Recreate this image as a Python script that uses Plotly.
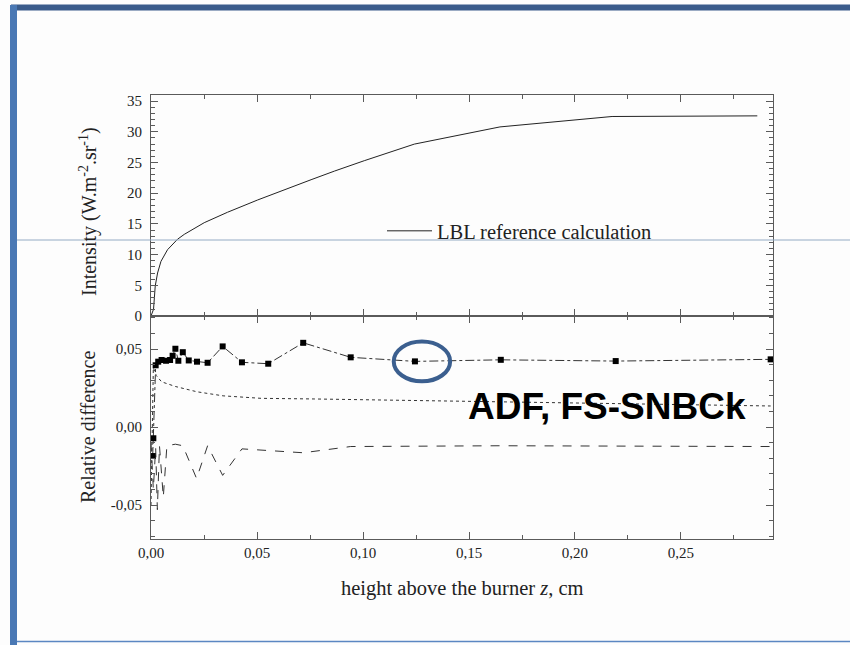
import plotly.graph_objects as go

# ---------------- data ----------------
lbl_z = [0.0, 0.0003, 0.0012, 0.0020, 0.0031, 0.0047, 0.0078, 0.0125, 0.0157,
         0.0251, 0.0361, 0.0503, 0.0629, 0.0755, 0.0865, 0.1006, 0.1242, 0.1384,
         0.1646, 0.2175, 0.2500, 0.2860]
lbl_I = [0.0, 0.3, 1.1, 4.9, 7.0, 8.9, 10.8, 12.5, 13.3,
         15.2, 16.9, 18.9, 20.6, 22.2, 23.6, 25.3, 28.0, 29.0,
         30.8, 32.5, 32.6, 32.6]

sq_z = [0.0008, 0.0011, 0.0022, 0.0034, 0.0050, 0.0071, 0.0090, 0.0102, 0.0115,
        0.0129, 0.0150, 0.0178, 0.0217, 0.0267, 0.0338, 0.0429, 0.0553, 0.0718,
        0.0942, 0.1245, 0.1650, 0.2192, 0.2923]
sq_v = [-0.0186, -0.0072, 0.0396, 0.0419, 0.0430, 0.0425, 0.0430, 0.0457, 0.0502,
        0.0425, 0.0480, 0.0427, 0.0419, 0.0412, 0.0517, 0.0415, 0.0406, 0.0540,
        0.0447, 0.0421, 0.0431, 0.0423, 0.0434]

dot_z = [0.0, 0.0011, 0.0025, 0.0050, 0.0115, 0.0217, 0.034, 0.052, 0.077,
         0.110, 0.150, 0.200, 0.2923]
dot_v = [-0.050, 0.038, 0.033, 0.029, 0.026, 0.0226, 0.020, 0.0184, 0.018,
         0.0173, 0.0165, 0.0158, 0.0135]

dash_z = [0.0, 0.0011, 0.0022, 0.0030, 0.0040, 0.0058, 0.0075, 0.0115, 0.0150,
          0.0215, 0.0267, 0.0338, 0.0429, 0.0718, 0.0942, 0.1650, 0.2923]
dash_v = [-0.010, -0.040, -0.013, -0.053, -0.012, -0.045, -0.012, -0.011, -0.012,
          -0.033, -0.012, -0.031, -0.014, -0.0165, -0.0125, -0.012, -0.0125]

x_ticks = [0.0, 0.05, 0.10, 0.15, 0.20, 0.25]
rel_tickvals = [-0.05, 0.0, 0.05]
rel_ticktext = ["-0,05", "0,00", "0,05"]

# ---------------- geometry helpers (pixel -> paper) ----------------
W, H = 850, 645
L, R, T, B = 151, 773, 95, 539
MID = 316


def X(px):
    return (px - L) / (R - L)


def Y(py):
    return (B - py) / (B - T)


split = Y(MID)
SERIF = "Liberation Serif"
AX = "#5a5a5a"
TXT = "#222222"

fig = go.Figure()

fig.add_trace(go.Scatter(
    x=lbl_z, y=lbl_I, mode="lines", name="LBL reference calculation",
    line=dict(color="#222222", width=1),
    xaxis="x", yaxis="y", showlegend=True))

fig.add_trace(go.Scatter(
    x=dot_z, y=dot_v, mode="lines", line=dict(color="#333333", width=1, dash="dot"),
    xaxis="x2", yaxis="y2", showlegend=False))
fig.add_trace(go.Scatter(
    x=dash_z, y=dash_v, mode="lines", line=dict(color="#333333", width=1, dash="dash"),
    xaxis="x2", yaxis="y2", showlegend=False))
fig.add_trace(go.Scatter(
    x=sq_z, y=sq_v, mode="lines+markers",
    line=dict(color="#333333", width=1, dash="dashdot"),
    marker=dict(symbol="square", size=6, color="#000000"),
    xaxis="x2", yaxis="y2", showlegend=False))

common_x = dict(range=[0, 0.2934], showline=True, linecolor=AX, linewidth=1,
                mirror="ticks", ticks="inside", ticklen=7, tickcolor=AX,
                dtick=0.05, tick0=0, showgrid=False, zeroline=False,
                minor=dict(dtick=0.025, tick0=0, ticks="inside", ticklen=4,
                           tickcolor=AX, showgrid=False))

fig.update_layout(
    width=W, height=H,
    margin=dict(l=L, r=W - R, t=T, b=H - B, pad=0),
    paper_bgcolor="#fdfdfd", plot_bgcolor="#fdfdfd",
    separators=",.",
    font=dict(family=SERIF, size=15, color=TXT),
    xaxis=dict(common_x, domain=[0, 1], anchor="y", showticklabels=False),
    yaxis=dict(domain=[split, 1], range=[0, 36], anchor="x", showline=True,
               linecolor=AX, mirror="ticks", ticks="inside", ticklen=7,
               tickcolor=AX, dtick=5, tick0=0, showgrid=False, zeroline=False,
               ticklabelstandoff=5,
               tickfont=dict(family=SERIF, size=15, color=TXT),
               minor=dict(dtick=1, tick0=0, ticks="inside", ticklen=4,
                          tickcolor=AX, showgrid=False)),
    xaxis2=dict(common_x, domain=[0, 1], anchor="y2", matches="x",
                showticklabels=True, tickvals=x_ticks, tickformat=".2f",
                tickfont=dict(family=SERIF, size=15, color=TXT)),
    yaxis2=dict(domain=[0, split], range=[-0.0718, 0.0712], anchor="x2",
                showline=True, linecolor=AX, mirror="ticks", ticks="inside",
                ticklen=7, tickcolor=AX, tickmode="array",
                tickvals=rel_tickvals, ticktext=rel_ticktext,
                showgrid=False, zeroline=False, ticklabelstandoff=5,
                tickfont=dict(family=SERIF, size=15, color=TXT),
                minor=dict(tickmode="linear", dtick=0.01, tick0=0,
                           ticks="inside", ticklen=4, tickcolor=AX,
                           showgrid=False)),
    legend=dict(x=X(382), y=Y(231), xanchor="left", yanchor="middle",
                bgcolor="rgba(0,0,0,0)", borderwidth=0,
                font=dict(family=SERIF, size=20.5, color=TXT),
                itemwidth=45),
)

# axis titles
fig.add_annotation(text="Intensity (W.m<sup>-2</sup>.sr<sup>-1</sup>)",
                   xref="paper", yref="paper", x=X(88), y=Y(212),
                   xanchor="center", yanchor="middle",
                   textangle=-90, showarrow=False,
                   font=dict(family=SERIF, size=20, color=TXT))
fig.add_annotation(text="Relative difference",
                   xref="paper", yref="paper", x=X(88), y=Y(427),
                   xanchor="center", yanchor="middle",
                   textangle=-90, showarrow=False,
                   font=dict(family=SERIF, size=20, color=TXT))
fig.add_annotation(text="height above the burner <i>z</i>, cm",
                   xref="paper", yref="paper", x=X(462), y=Y(588),
                   xanchor="center", yanchor="middle",
                   showarrow=False,
                   font=dict(family=SERIF, size=20.5, color=TXT))
fig.add_annotation(text="<b>ADF, FS-SNBCk</b>",
                   xref="paper", yref="paper", x=X(607), y=Y(406),
                   xanchor="center", yanchor="middle",
                   showarrow=False,
                   font=dict(family="Liberation Sans", size=37, color="#000000"))

# highlight ellipse around the point at z = 0.1245
ci = 19
cz, cv = sq_z[ci], sq_v[ci]
fig.add_shape(type="circle", xref="x2", yref="y2",
              x0=cz - 0.0100, x1=cz + 0.0166, y0=cv - 0.0128, y1=cv + 0.0128,
              line=dict(color="#3b5f8f", width=4))

# slide decoration
fig.add_shape(type="rect", xref="paper", yref="paper",
              x0=X(11), x1=X(860), y0=Y(10.5), y1=Y(4.5),
              fillcolor="#3a5b8b", line=dict(width=0), layer="above")
fig.add_shape(type="rect", xref="paper", yref="paper",
              x0=X(10), x1=X(17), y0=Y(660), y1=Y(5),
              fillcolor="#4a78b4", line=dict(width=0), layer="above")
fig.add_shape(type="line", xref="paper", yref="paper",
              x0=X(17), x1=X(860), y0=Y(641.5), y1=Y(641.5),
              line=dict(color="#5b87c2", width=1.5), layer="above")
fig.add_shape(type="line", xref="paper", yref="paper",
              x0=X(17), x1=X(860), y0=Y(240), y1=Y(240),
              line=dict(color="#94abc4", width=1), layer="above")

fig.write_html("out.html",
               config={"displayModeBar": False},
               post_script="document.body.style.margin='0';"
                           "document.body.style.overflow='hidden';")
